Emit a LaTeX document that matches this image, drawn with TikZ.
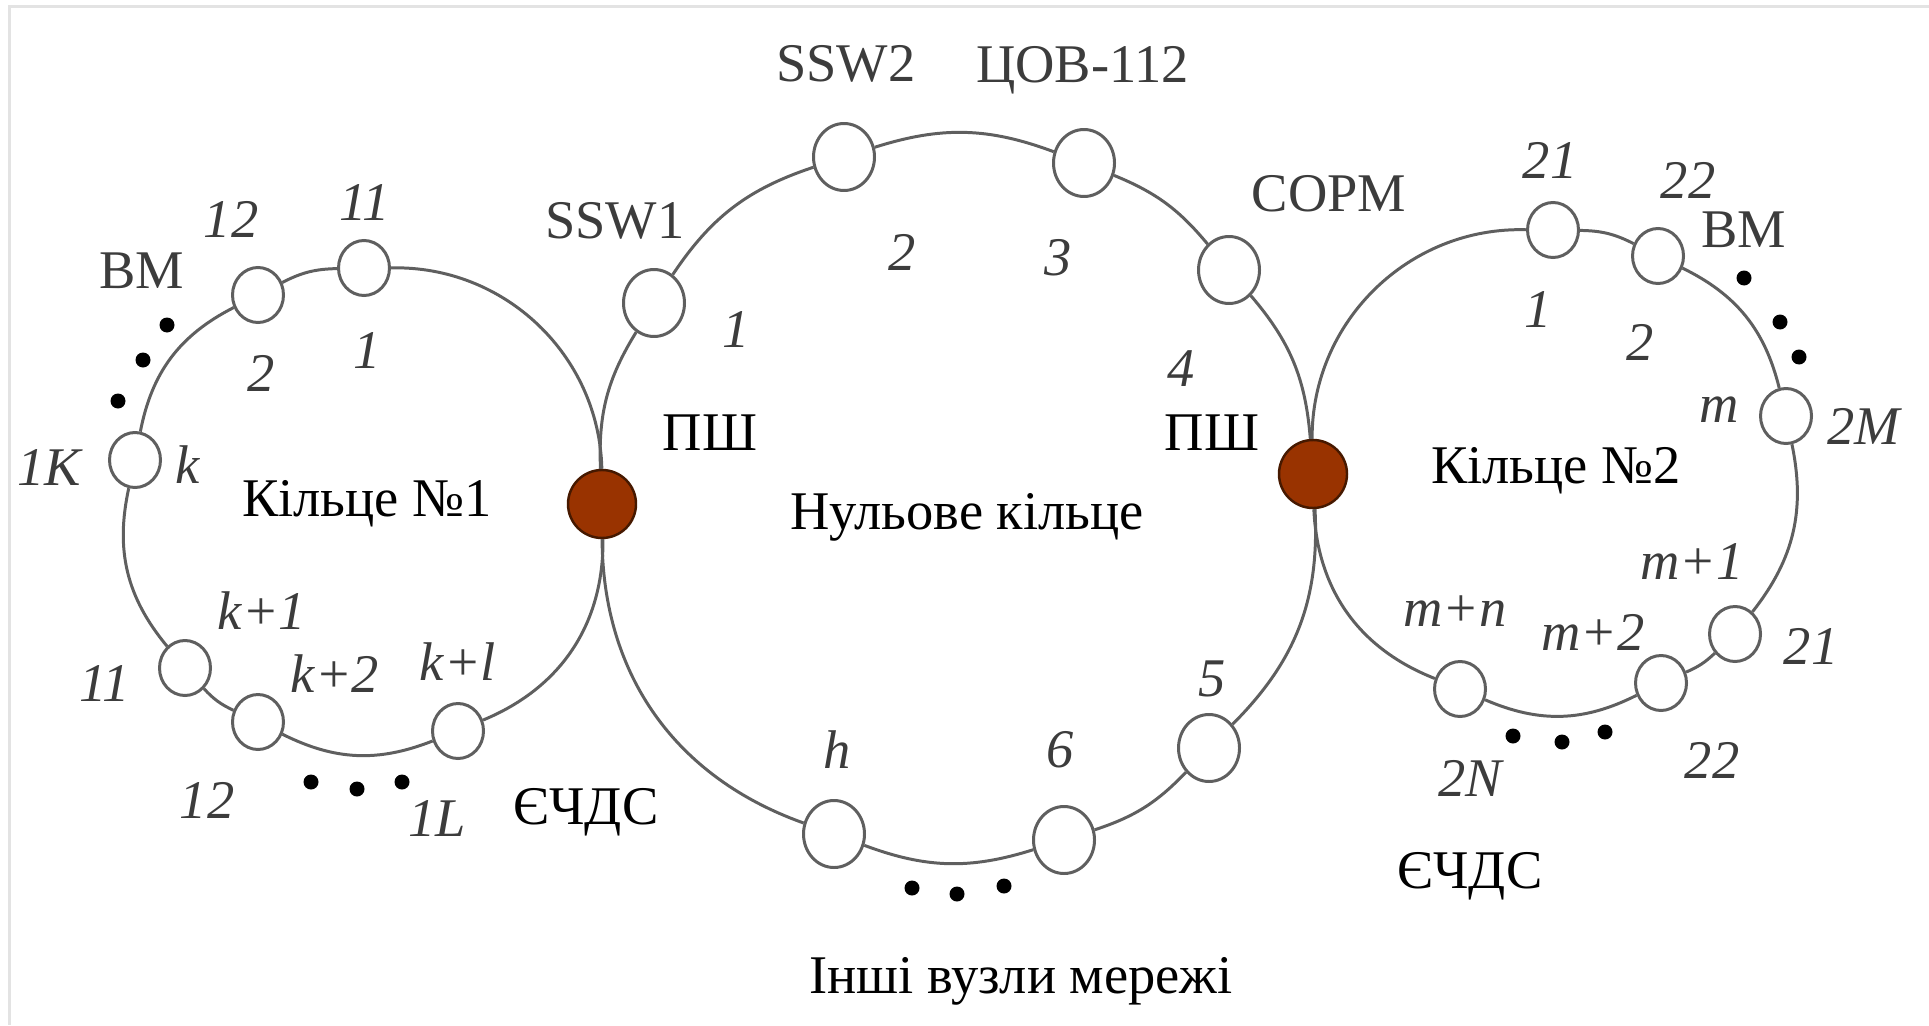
\documentclass[tikz,border=0pt]{standalone}
\usepackage{fontspec}
\setmainfont{Liberation Serif}
\usepackage{tikz}
\usetikzlibrary{shapes.geometric}

\definecolor{wiregray}{RGB}{95,95,95}
\definecolor{labelgray}{RGB}{60,60,60}
\definecolor{hubfill}{RGB}{153,51,0}
\definecolor{hubedge}{RGB}{70,25,0}
\definecolor{framegray}{RGB}{227,227,227}

\begin{document}
\begin{tikzpicture}[
    unit/.style={
        ellipse,
        draw=wiregray,
        fill=white,
        line width=0.85pt,
        minimum width=0.61cm,
        minimum height=0.67cm,
        inner sep=0pt
    },
    subunit/.style={
        unit,
        minimum width=0.51cm,
        minimum height=0.55cm
    },
    hub/.style={
        circle,
        draw=hubedge,
        fill=hubfill,
        line width=0.7pt,
        minimum size=0.68cm,
        inner sep=0pt
    },
    wire/.style={
        draw=wiregray,
        line width=0.85pt
    },
    tag/.style={
        text=labelgray,
        font=\fontsize{15.5}{18}\selectfont,
        inner sep=0pt
    },
    num/.style={
        tag,
        font=\fontsize{15.5}{18}\selectfont\itshape
    },
    caption/.style={
        font=\fontsize{15.5}{18}\selectfont,
        inner sep=0pt
    }
]

\useasboundingbox (0,0) rectangle (19.29,-10.25);
\draw[framegray, line width=0.9pt] (19.29,-0.065) -- (0.095,-0.065) -- (0.095,-10.25);

% junctions between the rings
\node[hub] (hubl) at (6.02,-5.04) {};
\node[hub] (hubr) at (13.13,-4.74) {};

% zero ring
\node[unit] (ssw1) at (6.54,-3.03) {};
\node[unit] (ssw2) at (8.44,-1.57) {};
\node[unit] (cov) at (10.84,-1.63) {};
\node[unit] (sorm) at (12.29,-2.70) {};
\node[unit] (n5) at (12.09,-7.48) {};
\node[unit] (n6) at (10.64,-8.40) {};
\node[unit] (nh) at (8.34,-8.34) {};

% ring 1
\node[subunit] (ra1) at (3.64,-2.68) {};
\node[subunit] (ra2) at (2.58,-2.95) {};
\node[subunit] (rak) at (1.35,-4.60) {};
\node[subunit] (rak1) at (1.85,-6.68) {};
\node[subunit] (rak2) at (2.58,-7.22) {};
\node[subunit] (rakl) at (4.58,-7.31) {};

% ring 2
\node[subunit] (rb1) at (15.53,-2.30) {};
\node[subunit] (rb2) at (16.58,-2.56) {};
\node[subunit] (rbm) at (17.86,-4.16) {};
\node[subunit] (rbm1) at (17.35,-6.34) {};
\node[subunit] (rbm2) at (16.61,-6.83) {};
\node[subunit] (rbmn) at (14.60,-6.89) {};

\draw[wire] (hubl) to[bend right=45] (ra1);
\draw[wire] (ra1) to[bend right=13] (ra2);
\draw[wire] (ra2) to[bend right=26] (rak);
\draw[wire] (rak) to[bend right=26] (rak1);
\draw[wire] (rak1) to[bend right=11] (rak2);
\draw[wire] (rak2) to[bend right=24] (rakl);
\draw[wire] (rakl) to[bend right=34] (hubl);

\draw[wire] (hubl) to[bend left=17] (ssw1);
\draw[wire] (ssw1) to[bend left=19] (ssw2);
\draw[wire] (ssw2) to[bend left=19] (cov);
\draw[wire] (cov) to[bend left=14] (sorm);
\draw[wire] (sorm) to[bend left=18] (hubr);
\draw[wire] (hubr) to[bend left=24] (n5);
\draw[wire] (n5) to[bend left=14] (n6);
\draw[wire] (n6) to[bend left=19] (nh);
\draw[wire] (nh) to[bend left=35] (hubl);

\draw[wire] (hubr) to[bend left=46] (rb1);
\draw[wire] (rb1) to[bend left=13] (rb2);
\draw[wire] (rb2) to[bend left=25] (rbm);
\draw[wire] (rbm) to[bend left=25] (rbm1);
\draw[wire] (rbm1) to[bend left=10] (rbm2);
\draw[wire] (rbm2) to[bend left=25] (rbmn);
\draw[wire] (rbmn) to[bend left=33] (hubr);

% labels, ring 1
\node[tag] (vm1) at (1.42,-2.71) {ВМ};
\node[num] (t12a) at (2.31,-2.19) {12};
\node[num] (t11a) at (3.65,-2.03) {11};
\node[num] (ta2) at (2.61,-3.73) {2};
\node[num] (ta1) at (3.67,-3.51) {1};
\node[num] (t1k) at (0.49,-4.68) {1K};
\node[num] (tk) at (1.88,-4.65) {k};
\node[num] (tk1) at (2.62,-6.11) {k+1};
\node[num] (t11b) at (1.05,-6.84) {11};
\node[num] (tk2) at (3.35,-6.74) {k+2};
\node[num] (tkl) at (4.58,-6.62) {k+l};
\node[num] (t12b) at (2.07,-8.00) {12};
\node[num] (t1l) at (4.37,-8.19) {1L};
\node[caption] (ring1) at (3.67,-5.04) {Кільце №1};
\node[caption] (eds1) at (5.86,-8.12) {ЄЧДС};

\fill (1.67,-3.25) circle[radius=0.075];
\fill (1.43,-3.60) circle[radius=0.075];
\fill (1.18,-4.01) circle[radius=0.075];
\fill (3.11,-7.82) circle[radius=0.075];
\fill (3.57,-7.89) circle[radius=0.075];
\fill (4.02,-7.82) circle[radius=0.075];

% labels, zero ring
\node[tag] (tssw1) at (6.15,-2.21) {SSW1};
\node[tag] (tssw2) at (8.46,-0.64) {SSW2};
\node[tag] (tcov) at (10.83,-0.70) {ЦОВ-112};
\node[tag] (tsorm) at (13.29,-1.94) {СОРМ};
\node[num] (tz1) at (7.36,-3.30) {1};
\node[num] (tz2) at (9.02,-2.52) {2};
\node[num] (tz3) at (10.58,-2.58) {3};
\node[num] (tz4) at (11.81,-3.69) {4};
\node[num] (tz5) at (12.12,-6.79) {5};
\node[num] (tz6) at (10.60,-7.50) {6};
\node[num] (tzh) at (8.37,-7.50) {h};
\node[caption] (psl) at (7.10,-4.33) {ПШ};
\node[caption] (psr) at (12.12,-4.33) {ПШ};
\node[caption] (ring0) at (9.67,-5.17) {Нульове кільце};
\node[caption] (others) at (10.21,-9.81) {Інші вузли мережі};

\fill (9.12,-8.88) circle[radius=0.075];
\fill (9.57,-8.94) circle[radius=0.075];
\fill (10.04,-8.86) circle[radius=0.075];

% labels, ring 2
\node[num] (t21a) at (15.50,-1.60) {21};
\node[num] (t22a) at (16.88,-1.80) {22};
\node[tag] (vm2) at (17.44,-2.30) {ВМ};
\node[num] (tb1) at (15.38,-3.10) {1};
\node[num] (tb2) at (16.40,-3.42) {2};
\node[num] (tm) at (17.19,-4.10) {m};
\node[num] (t2m) at (18.64,-4.26) {2M};
\node[num] (tm1) at (16.92,-5.62) {m+1};
\node[num] (tmn) at (14.55,-6.11) {m+n};
\node[num] (tm2) at (15.93,-6.32) {m+2};
\node[num] (t21b) at (18.11,-6.46) {21};
\node[num] (t2n) at (14.70,-7.78) {2N};
\node[num] (t22b) at (17.12,-7.60) {22};
\node[caption] (ring2) at (15.56,-4.71) {Кільце №2};
\node[caption] (eds2) at (14.70,-8.76) {ЄЧДС};

\fill (17.44,-2.78) circle[radius=0.075];
\fill (17.80,-3.22) circle[radius=0.075];
\fill (17.99,-3.57) circle[radius=0.075];
\fill (15.13,-7.36) circle[radius=0.075];
\fill (15.62,-7.42) circle[radius=0.075];
\fill (16.05,-7.32) circle[radius=0.075];

\end{tikzpicture}
\end{document}
